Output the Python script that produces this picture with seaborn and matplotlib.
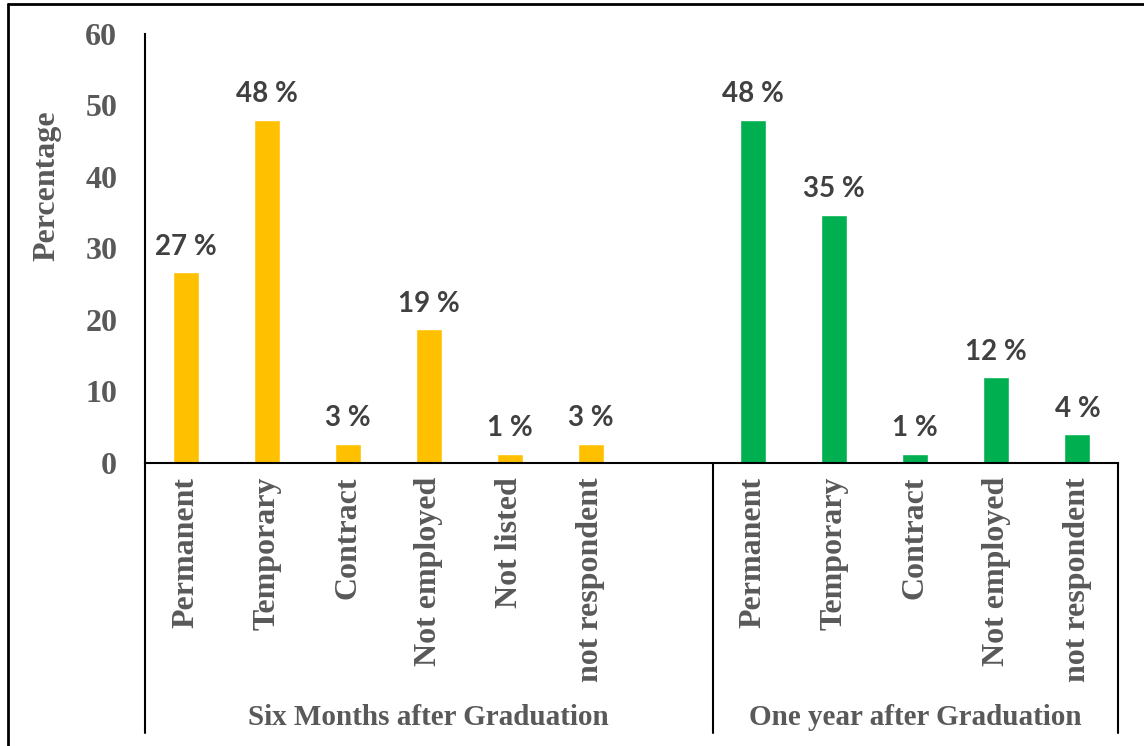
import pandas as pd
import matplotlib.pyplot as plt
import matplotlib.lines as mlines
import seaborn as sns

# data
six_months_cats = ["Permanent", "Temporary", "Contract", "Not employed", "Not listed", "not respondent"]
six_months_vals = [26.7, 48.0, 2.7, 18.7, 1.3, 2.7]
one_year_cats = ["Permanent", "Temporary", "Contract", "Not employed", "not respondent"]
one_year_vals = [48.0, 34.7, 1.3, 12.0, 4.0]
group_names = ["Six Months after Graduation", "One year after Graduation"]
group_colors = ["#FFC000", "#00B050"]

sns.set_theme(style="white")
plt.rcParams["font.family"] = ["Liberation Serif", "DejaVu Serif"]

# one slot per category, plus an empty slot at the end of the first group
slots = [f"s_{c}" for c in six_months_cats] + ["s_blank"] + [f"o_{c}" for c in one_year_cats]
tick_labels = six_months_cats + [""] + one_year_cats

df = pd.DataFrame({
    "slot": [f"s_{c}" for c in six_months_cats] + [f"o_{c}" for c in one_year_cats],
    "value": six_months_vals + one_year_vals,
    "group": [group_names[0]] * len(six_months_cats) + [group_names[1]] * len(one_year_cats),
})

fig = plt.figure(figsize=(11.44, 7.46), dpi=100)
ax = fig.add_axes([145 / 1144, 1 - 463 / 746, (1118 - 145) / 1144, (463 - 34) / 746])

sns.barplot(data=df, x="slot", y="value", hue="group", order=slots,
            hue_order=group_names, palette=group_colors, dodge=False,
            width=0.32, legend=False, ax=ax, saturation=1)

for cont in ax.containers:
    ax.bar_label(cont, fmt=lambda v: f"{v:.0f} %", padding=9,
                 fontsize=20, fontweight="bold", color="#404040", family="Lato")

ax.set_xlim(-0.5, len(slots) - 0.5)
ax.set_ylim(0, 60)
ax.set_yticks(range(0, 61, 10))
ax.set_xticks(range(len(slots)))
ax.set_xticklabels(tick_labels, rotation=90, va="top", ha="center")
ax.tick_params(axis="x", length=0, pad=10, labelsize=23, labelcolor="#595959")
ax.tick_params(axis="y", length=0, pad=20, labelsize=23, labelcolor="#595959")
for lbl in ax.get_xticklabels() + ax.get_yticklabels():
    lbl.set_fontweight("bold")
ax.set_xlabel("")
ax.set_ylabel("")

for side in ["top", "right"]:
    ax.spines[side].set_visible(False)
for side in ["left", "bottom"]:
    ax.spines[side].set_color("black")
    ax.spines[side].set_linewidth(1.5)

# multi-level category axis: separators and group labels below the plot
tr = ax.get_xaxis_transform()
bottom = -(733 - 463) / (463 - 34)
n_six = len(six_months_cats) + 1
for xs in [-0.5, n_six - 0.5, len(slots) - 0.5]:
    ax.add_line(mlines.Line2D([xs, xs], [0, bottom], transform=tr, color="black",
                              lw=1.5, clip_on=False))
label_y = -(717 - 463) / (463 - 34)
ax.text((n_six - 1) / 2, label_y, group_names[0], transform=tr,
        ha="center", va="center", fontsize=21, fontweight="bold", color="#595959")
ax.text(n_six + (len(one_year_cats) - 1) / 2, label_y, group_names[1],
        transform=tr, ha="center", va="center", fontsize=21, fontweight="bold", color="#595959")

fig.text(47 / 1144, 1 - 186 / 746, "Percentage", rotation=90, ha="center", va="center",
         fontsize=23, fontweight="bold", color="#595959")

# outer border (top and left only are visible in the reference)
fig.add_artist(mlines.Line2D([8 / 1144, 1], [1 - 4 / 746, 1 - 4 / 746], color="black", lw=2))
fig.add_artist(mlines.Line2D([8 / 1144, 8 / 1144], [0, 1 - 4 / 746], color="black", lw=2))

fig.savefig("out.png", dpi=100)
plt.close(fig)
